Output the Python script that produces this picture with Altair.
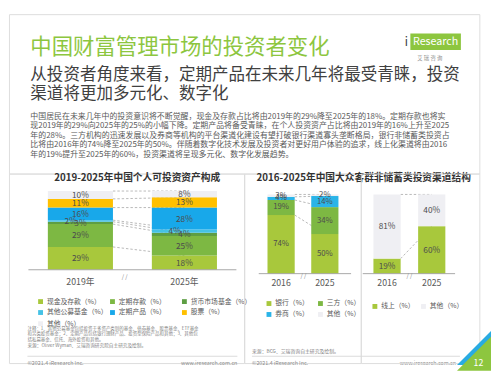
import altair as alt
import pandas as pd
import numpy as np

FONT = "Noto Sans CJK SC"

# ---------------- text content ----------------
TITLE = "中国财富管理市场的投资者变化"
SUBTITLE = ["从投资者角度来看，定期产品在未来几年将最受青睐，投资",
            "渠道将更加多元化、数字化"]
PARAGRAPH = [
    "中国居民在未来几年中的投资意识将不断觉醒，现金及存款占比将由2019年的29%降至2025年的18%。定期存款也将实",
    "现2019年的29%向2025年的25%的小幅下降。定期产品将备受青睐，在个人投资资产占比将由2019年的16%上升至2025",
    "年的28%。三方机构的迅速发展以及券商等机构的平台渠道化建设有望打破银行渠道寡头垄断格局，银行非储蓄类投资占",
    "比将由2016年的74%降至2025年的50%。伴随着数字化技术发展及投资者对更好用户体验的追求，线上化渠道将由2016",
    "年的19%提升至2025年的60%，投资渠道将呈现多元化、数字化发展趋势。",
]
CHART1_TITLE = "2019-2025年中国个人可投资资产构成"
CHART2_TITLE = "2016-2025年中国大众客群非储蓄类投资渠道结构"
NOTES = [
    "注释：1、其他公募基金包括投资于多资产类别的基金、债券基金、股票基金、ETF基金",
    "和另类投资基金；2、定期产品包括银行理财产品、投资型保险产品和其他；3、其他包",
    "括私募基金、信托、海外投资和其他。",
]
SOURCE1 = "来源：Oliver Wyman、艾瑞咨询研究院自主研究及绘制。"
SOURCE2 = "来源：BCG、艾瑞咨询自主研究及绘制。"
COPYRIGHT = "©2021.4 iResearch Inc."
WEBSITE = "www.iresearch.com.cn"
PAGE_NO = "12"

# ---------------- chart 1 data ----------------
ASSET_YEARS = ["2019年", "2025年"]
ASSET_CATS = ["现金及存款", "定期存款", "货币市场基金", "其他公募基金", "定期产品", "股票", "其他"]
ASSET_2019 = [29, 29, 3, 2, 16, 11, 10]
ASSET_2025 = [18, 25, 4, 4, 28, 13, 8]
ASSET_COLORS = ["#A8C83C", "#7DB843", "#5E9E44", "#45C2E6", "#18A8EA", "#FFC000", "#EFEFF3"]

# ---------------- chart 2 data ----------------
CH_YEARS = ["2016", "2025"]
CH_CATS = ["银行", "三方", "券商", "其他"]
CH_2016 = [74, 19, 4, 3]
CH_2025 = [50, 34, 14, 2]
CH_COLORS = ["#A8C83C", "#7DB843", "#2AB4E8", "#EFEFF3"]

# ---------------- chart 3 data ----------------
ON_YEARS = ["2016", "2025"]
ON_CATS = ["线上", "其他"]
ON_2016 = [19, 81]
ON_2025 = [60, 40]
ON_COLORS = ["#A8C83C", "#EFEFF3"]

ONE = pd.DataFrame({"k": [0]})
GREEN = "#8DC63F"


def stacked(years, cats, series):
    rows = []
    for yr, vals in zip(years, series):
        lo = 0
        for c, v in zip(cats, vals):
            rows.append({"year": yr, "cat": c, "v": v, "lo": lo, "hi": lo + v,
                         "mid": lo + v / 2, "lab": f"{v}%"})
            lo += v
    return pd.DataFrame(rows)


def links(years, series):
    a = np.cumsum(series[0])
    b = np.cumsum(series[1])
    return pd.DataFrame({"a": years[0], "b": years[1], "ya": a, "yb": b})


def txt(text, x, y, size, color, align="left", weight="normal", baseline="middle"):
    return alt.Chart(ONE).mark_text(
        text=text, align=align, baseline=baseline, fontSize=size, color=color,
        fontWeight=weight, font=FONT
    ).encode(x=alt.value(x), y=alt.value(y))


def hline(x1, x2, y, color="#A6A6A6", w=1.0):
    return alt.Chart(ONE).mark_rule(color=color, strokeWidth=w).encode(
        x=alt.value(x1), x2=alt.value(x2), y=alt.value(y))


def legend(cols, x, y, colpad):
    return alt.Legend(
        orient="none", legendX=x, legendY=y, columns=cols, direction="horizontal",
        title=None, symbolType="square", symbolSize=25, symbolStrokeWidth=0,
        labelFontSize=7, labelColor="#595959", labelFont=FONT,
        labelExpr="datum.label + '（%）'", gridAlign="all",
        columnPadding=colpad, rowPadding=3.5, labelOffset=3, labelLimit=0, padding=0)


def panel(years, cats, series, colors, xr, pin, yr, ylab, leg, brk, axis_x,
          shift_cat=None, shift_dx=0, lsize=8.5):
    df = stacked(years, cats, series)
    lk = links(years, series)
    xs = alt.Scale(domain=years, range=xr, paddingInner=pin, paddingOuter=0)
    ys = alt.Scale(domain=[0, 100], range=yr, nice=False, zero=False)
    cs = alt.Scale(domain=cats, range=colors)
    X = alt.X("year:N", scale=xs, axis=None)
    conn = alt.Chart(lk).mark_rule(color="#A6A6A6", strokeWidth=0.8, strokeDash=[2.5, 2]).encode(
        x=alt.X("a:N", scale=xs, axis=None, bandPosition=1), x2="b:N",
        y=alt.Y("ya:Q", scale=ys, axis=None), y2="yb:Q")
    bars = alt.Chart(df).mark_bar().encode(
        x=X, y=alt.Y("lo:Q", scale=ys, axis=None), y2="hi:Q",
        color=alt.Color("cat:N", scale=cs, legend=leg))
    lab_base = alt.Chart(df).encode(x=X, y=alt.Y("mid:Q", scale=ys, axis=None), text="lab:N")
    layers = [conn, bars]
    if shift_cat:
        layers.append(lab_base.transform_filter(alt.datum.cat != shift_cat)
                      .mark_text(fontSize=lsize, color="#4d4d4d", font=FONT))
        layers.append(lab_base.transform_filter(alt.datum.cat == shift_cat)
                      .mark_text(fontSize=lsize, color="#4d4d4d", font=FONT, dx=shift_dx))
    else:
        layers.append(lab_base.mark_text(fontSize=lsize, color="#4d4d4d", font=FONT))
    ylabels = alt.Chart(pd.DataFrame({"year": years})).mark_text(
        fontSize=9, color="#595959", font=FONT).encode(x=X, y=alt.value(ylab), text="year:N")
    layers.append(ylabels)
    layers.append(hline(axis_x[0], axis_x[1], yr[0], "#A6A6A6", 1))
    layers.append(txt("/ /", brk[0], brk[1], 6, "#7f7f7f", align="center"))
    return layers


# ---------------- header ----------------
header_layers = [
    txt(TITLE, 22, 34, 22, GREEN),
    txt(SUBTITLE[0], 22, 62.5, 17, "#404040"),
    txt(SUBTITLE[1], 22, 82, 17, "#404040"),
]
for i, line in enumerate(PARAGRAPH):
    header_layers.append(txt(line, 22, 105.5 + i * 9.8, 8.15, "#595959"))
header_layers += [
    alt.Chart(ONE).mark_rect(color=GREEN).encode(
        x=alt.value(413), x2=alt.value(465), y=alt.value(20), y2=alt.value(37)),
    txt("i", 409, 29, 12, "#3a3a3a", align="center"),
    txt("Research", 439, 29, 11, "white", align="center"),
    txt("艾   瑞   咨   询", 433, 45, 5.5, "#8c8c8c", align="center"),
]
header = alt.layer(*header_layers).properties(width=484, height=164)

# ---------------- panel 1 ----------------
p1_layers = panel(ASSET_YEARS, ASSET_CATS, [ASSET_2019, ASSET_2025], ASSET_COLORS,
                  [40, 214], 0.374, [99, 18], 112, legend(3, 29, 128, 1),
                  (119, 106), (20, 234), shift_cat="其他公募基金", shift_dx=-10)
p1_layers += [txt(CHART1_TITLE, 132, 5, 10, "#333333", align="center", weight="bold")]
for i, line in enumerate(NOTES):
    p1_layers.append(txt(line, 19, 160.2 + i * 5.4, 4.6, "#7f7f7f"))
p1_layers += [
    txt(SOURCE1, 19, 177, 4.8, "#7f7f7f"),
    hline(19, 235, 188, "#D0D0D0", 0.8),
    txt(COPYRIGHT, 19, 195, 5.5, "#8c8c8c"),
    txt(WEBSITE, 235, 195, 5.5, "#8c8c8c", align="right"),
]
p1 = alt.layer(*p1_layers).properties(width=242, height=195)

# ---------------- panel 2 ----------------
p2_layers = panel(CH_YEARS, CH_CATS, [CH_2016, CH_2025], CH_COLORS,
                  [24, 97], 0.378, [103, 21.5], 113, legend(2, 22, 130, 8),
                  (61, 105), (15, 110), lsize=8)
p2_layers += [
    txt(CHART2_TITLE, 123, 5, 10, "#333333", align="center", weight="bold"),
    txt(SOURCE2, 8, 183, 5.0, "#7f7f7f"),
    hline(8, 222, 188, "#D0D0D0", 0.8),
    txt(COPYRIGHT, 8, 195, 5.5, "#8c8c8c"),
    txt(WEBSITE, 218, 195, 5.5, "#8c8c8c", align="right"),
]
p2 = alt.layer(*p2_layers).properties(width=120, height=195)

# ---------------- panel 3 ----------------
p3_layers = panel(ON_YEARS, ON_CATS, [ON_2016, ON_2025], ON_COLORS,
                  [13, 87], 0.391, [103, 21.5], 113, legend(2, 11, 133, 5),
                  (50, 105), (2, 97))
tri = "M -1 1 L 1 1 L 1 -1 Z"
p3_layers += [
    alt.Chart(ONE).mark_point(shape=tri, filled=True, color="#29ABE2", opacity=1, size=1225).encode(
        x=alt.value(116.5), y=alt.value(179.5)),
    alt.Chart(ONE).mark_point(shape=tri, filled=True, color=GREEN, opacity=1, size=1225).encode(
        x=alt.value(116.5), y=alt.value(185.5)),
    txt(PAGE_NO, 121, 195, 9, "white", align="center"),
]
p3 = alt.layer(*p3_layers).properties(width=122, height=195)

body = alt.hconcat(p1, p2, p3, spacing=0, bounds="flush").resolve_scale(
    color="independent", x="independent", y="independent")

chart = alt.vconcat(header, body, spacing=0, bounds="flush").properties(
    padding=0, background="white"
).configure_view(stroke="transparent").configure(font=FONT)

chart.save("out.html", embed_options={"renderer": "svg", "actions": False})
